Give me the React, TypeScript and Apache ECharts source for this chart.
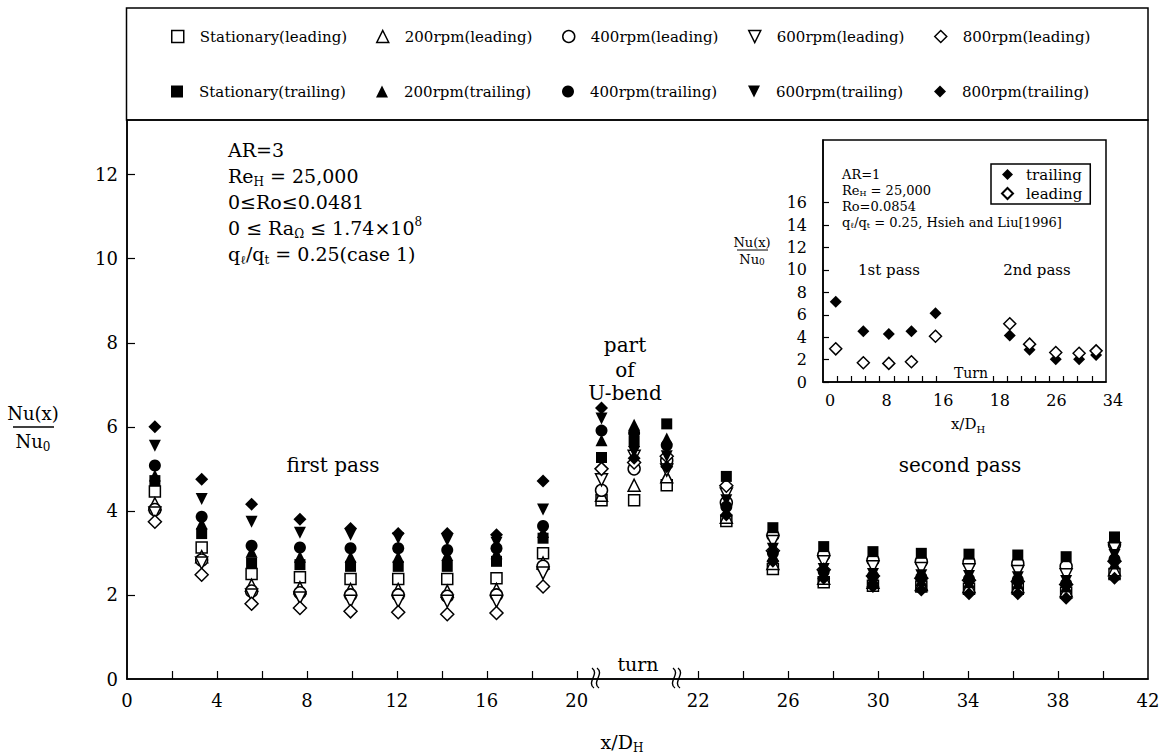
import React, { useEffect, useRef } from "react";
import * as echarts from "echarts";

const FONT = "DejaVu Serif";
const GAP = 3.4; // extra axis room reserved for the U-bend (turn) region

// measurement stations, x/D_H
const firstPassX = [1.24, 3.32, 5.54, 7.69, 9.94, 12.06, 14.24, 16.43, 18.5];
const secondPassX = [23.25, 25.32, 27.58, 29.77, 31.92, 34.04, 36.21, 38.36, 40.51];
// stations inside the U-bend (axis units inside the turn break)
const turnX = [21.1, 22.55, 24.0];

const xTickLabels = [0, 4, 8, 12, 16, 20, 22, 26, 30, 34, 38, 42];
const xTicks = [2, 4, 6, 8, 10, 12, 14, 16, 18, 20, 22, 24, 26, 28, 30, 32, 34, 36, 38, 40];
const yTickLabels = [0, 2, 4, 6, 8, 10, 12];
const yTicks = [2, 4, 6, 8, 10, 12];

// Nu(x)/Nu0 : 9 first-pass, 3 turn, 9 second-pass values
const stationaryLeading = [4.46, 3.13, 2.5, 2.42, 2.38, 2.38, 2.38, 2.4, 2.99, 4.25, 4.25, 4.61, 3.76, 2.62, 2.3, 2.22, 2.2, 2.15, 2.15, 2.05, 2.5];
const rpm200Leading = [4.17, 2.91, 2.23, 2.17, 2.13, 2.13, 2.09, 2.13, 2.76, 4.37, 4.61, 4.81, 3.85, 2.75, 2.4, 2.3, 2.25, 2.2, 2.2, 2.1, 2.6];
const rpm400Leading = [4.03, 2.83, 2.09, 2.05, 2.0, 2.0, 1.97, 2.0, 2.68, 4.49, 5.0, 5.2, 4.2, 3.42, 2.95, 2.83, 2.8, 2.78, 2.75, 2.68, 3.2];
const rpm600Leading = [3.95, 2.76, 2.0, 1.93, 1.85, 1.85, 1.85, 1.85, 2.52, 4.74, 5.3, 4.97, 4.4, 3.27, 2.79, 2.67, 2.63, 2.6, 2.56, 2.48, 3.1];
const rpm800Leading = [3.74, 2.48, 1.79, 1.69, 1.61, 1.59, 1.54, 1.57, 2.2, 5.0, 5.15, 5.3, 4.6, 3.05, 2.6, 2.45, 2.4, 2.35, 2.32, 2.25, 2.8];
const stationaryTrailing = [4.72, 3.46, 2.76, 2.72, 2.68, 2.68, 2.68, 2.8, 3.35, 5.27, 5.65, 6.07, 4.82, 3.6, 3.15, 3.03, 2.99, 2.97, 2.95, 2.91, 3.38];
const rpm200Trailing = [4.84, 3.7, 3.03, 2.91, 2.91, 2.91, 2.95, 2.99, 3.5, 5.68, 6.05, 5.72, 4.0, 2.95, 2.5, 2.4, 2.35, 2.3, 2.28, 2.2, 2.75];
const rpm400Trailing = [5.08, 3.86, 3.17, 3.13, 3.11, 3.11, 3.07, 3.11, 3.64, 5.91, 5.85, 5.56, 4.1, 3.0, 2.55, 2.45, 2.42, 2.38, 2.36, 2.27, 2.85];
const rpm600Trailing = [5.55, 4.28, 3.74, 3.48, 3.43, 3.35, 3.3, 3.24, 4.03, 6.2, 5.4, 5.3, 4.25, 3.1, 2.62, 2.5, 2.47, 2.45, 2.42, 2.33, 2.95];
const rpm800Trailing = [6.0, 4.75, 4.16, 3.8, 3.58, 3.46, 3.46, 3.43, 4.71, 6.45, 5.25, 5.05, 3.9, 2.8, 2.4, 2.2, 2.12, 2.03, 2.03, 1.92, 2.4];

// inset (AR=1, Hsieh and Liu 1996)
const INSET_GAP = 6;
const insetFirstX = [1.8, 5.7, 9.3, 12.5, 15.9];
const insetSecondX = [20.4, 23.2, 26.9, 30.2, 32.6];
const insetTrailing = [7.16, 4.53, 4.29, 4.53, 6.13, 4.14, 2.87, 2.02, 2.02, 2.42];
const insetLeading = [2.96, 1.72, 1.66, 1.81, 4.08, 5.2, 3.38, 2.63, 2.57, 2.78];
const insetXLabels = [0, 8, 16, 18, 26, 34];
const insetXTicks = [2, 4, 6, 8, 10, 12, 14, 16, 18, 20, 22, 24, 26, 28, 30, 32];
const insetYLabels = [0, 2, 4, 6, 8, 10, 12, 14, 16];

const toDisp = (x: number) => (x > 20 ? x + GAP : x);
const fromDisp = (v: number) => (v > 21 ? v - GAP : v);
const toInsetDisp = (x: number) => (x > 16 ? x + INSET_GAP : x);

function mainPoints(vals: number[]) {
  const pts: number[][] = [];
  firstPassX.forEach((x, i) => pts.push([x, vals[i]]));
  turnX.forEach((x, i) => pts.push([x, vals[9 + i]]));
  secondPassX.forEach((x, i) => pts.push([toDisp(x), vals[12 + i]]));
  return pts;
}
function insetPoints(vals: number[]) {
  return [...insetFirstX, ...insetSecondX].map((x, i) => [toInsetDisp(x), vals[i]]);
}

const hollow = { color: "#fff", borderColor: "#000", borderWidth: 1.5, opacity: 1 };
const solid = { color: "#000", borderColor: "#000", borderWidth: 0, opacity: 1 };
const DOWN_TRIANGLE = "path://M0,0L12,0L6,12Z";

const defs = [
  { name: "Stationary(leading)", symbol: "rect", size: 11, rot: 0, filled: false, vals: stationaryLeading, col: 0, row: 0 },
  { name: "200rpm(leading)", symbol: "triangle", size: 12, rot: 0, filled: false, vals: rpm200Leading, col: 1, row: 0 },
  { name: "400rpm(leading)", symbol: "circle", size: 12, rot: 0, filled: false, vals: rpm400Leading, col: 2, row: 0 },
  { name: "600rpm(leading)", symbol: "triangle", size: 12, rot: 180, filled: false, vals: rpm600Leading, col: 3, row: 0 },
  { name: "800rpm(leading)", symbol: "diamond", size: 13, rot: 0, filled: false, vals: rpm800Leading, col: 4, row: 0 },
  { name: "Stationary(trailing)", symbol: "rect", size: 11, rot: 0, filled: true, vals: stationaryTrailing, col: 0, row: 1 },
  { name: "200rpm(trailing)", symbol: "triangle", size: 12, rot: 0, filled: true, vals: rpm200Trailing, col: 1, row: 1 },
  { name: "400rpm(trailing)", symbol: "circle", size: 12, rot: 0, filled: true, vals: rpm400Trailing, col: 2, row: 1 },
  { name: "600rpm(trailing)", symbol: "triangle", size: 12, rot: 180, filled: true, vals: rpm600Trailing, col: 3, row: 1 },
  { name: "800rpm(trailing)", symbol: "diamond", size: 13, rot: 0, filled: true, vals: rpm800Trailing, col: 4, row: 1 },
];

const legendCols = [177, 382, 568, 754, 940];
const legendRows = [38, 93];

const richBase = (size: number, sub: number, lh: number) => ({
  m: { fontSize: size, fontFamily: FONT, fill: "#000", lineHeight: lh },
  s: { fontSize: sub, fontFamily: FONT, fill: "#000", lineHeight: sub, verticalAlign: "bottom" },
  p: { fontSize: sub, fontFamily: FONT, fill: "#000", lineHeight: sub, verticalAlign: "top" },
});

function txt(x: number, y: number, text: string, size: number, align = "left", sub = 12, lh = size + 5) {
  return {
    type: "text",
    x,
    y,
    style: {
      text,
      rich: richBase(size, sub, lh),
      font: `${size}px "${FONT}"`,
      fill: "#000",
      align,
      verticalAlign: "middle",
    },
  };
}

function breakMark(cx: number, cy: number) {
  return [0, 5].map((dx) => ({
    type: "bezierCurve",
    shape: { x1: cx + dx - 1, y1: cy - 11, x2: cx + dx + 1, y2: cy + 9, cpx1: cx + dx + 7, cpy1: cy - 5, cpx2: cx + dx - 7, cpy2: cy + 3 },
    style: { stroke: "#000", lineWidth: 1.4, fill: "none" },
  }));
}

const axisText = { fontFamily: FONT, color: "#000" };

export default function App() {
  const ref = useRef<HTMLDivElement>(null);
  useEffect(() => {
    const chart = echarts.init(ref.current!, null, { renderer: "svg" });
    const order = [...defs.filter((d) => !d.filled), ...defs.filter((d) => d.filled)];
    const option: any = {
      animation: false,
      backgroundColor: "#fff",
      grid: [
        { left: 127, top: 120, width: 1021, height: 559, show: true, borderColor: "#000", borderWidth: 1.5 },
        { left: 823, top: 140, width: 283, height: 242, show: true, borderColor: "#000", borderWidth: 1.5, backgroundColor: "#fff" },
      ],
      xAxis: [
        {
          type: "value", gridIndex: 0, min: 0, max: 42 + GAP,
          axisLine: { lineStyle: { color: "#000", width: 1.5 } },
          axisTick: { inside: true, length: 8, lineStyle: { color: "#000", width: 1.2 }, customValues: xTicks.map(toDisp) },
          axisLabel: { ...axisText, fontSize: 18, margin: 12, customValues: xTickLabels.map(toDisp), formatter: (v: number) => String(Math.round(fromDisp(v))) },
          splitLine: { show: false },
        },
        {
          type: "value", gridIndex: 1, min: 0, max: 34 + INSET_GAP,
          axisLine: { lineStyle: { color: "#000", width: 1.5 } },
          axisTick: { inside: true, length: 6, lineStyle: { color: "#000", width: 1.2 }, customValues: insetXTicks.map(toInsetDisp) },
          axisLabel: { ...axisText, fontSize: 16, margin: 10, padding: [0, 0, 0, 14], customValues: insetXLabels.map(toInsetDisp), formatter: (v: number) => String(Math.round(v > 17 ? v - INSET_GAP : v)) },
          splitLine: { show: false },
        },
      ],
      yAxis: [
        {
          type: "value", gridIndex: 0, min: 0, max: 13.3,
          axisLine: { lineStyle: { color: "#000", width: 1.5 } },
          axisTick: { inside: true, length: 8, lineStyle: { color: "#000", width: 1.2 }, customValues: yTicks },
          axisLabel: { ...axisText, fontSize: 18, margin: 9, customValues: yTickLabels },
          splitLine: { show: false },
        },
        {
          type: "value", gridIndex: 1, min: 0, max: 21.6,
          axisLine: { lineStyle: { color: "#000", width: 1.5 } },
          axisTick: { inside: true, length: 6, lineStyle: { color: "#000", width: 1.2 }, customValues: insetYLabels },
          axisLabel: { ...axisText, fontSize: 16, margin: 16, customValues: insetYLabels },
          splitLine: { show: false },
        },
      ],
      legend: [
        ...defs.map((d) => ({
          data: [d.rot ? { name: d.name, icon: DOWN_TRIANGLE } : { name: d.name }],
          left: legendCols[d.col] - 6,
          top: legendRows[d.row] - 9,
          itemWidth: 12,
          itemHeight: 12,
          padding: 0,
          selectedMode: false,
          itemStyle: d.filled ? solid : hollow,
          textStyle: { fontFamily: FONT, fontSize: 15, color: "#000", padding: [0, 0, 0, 11] },
        })),
        {
          data: ["trailing", "leading"],
          orient: "vertical",
          left: 991,
          top: 164,
          itemGap: 4,
          itemWidth: 11,
          itemHeight: 11,
          selectedMode: false,
          borderColor: "#000",
          borderWidth: 1.5,
          padding: [3, 8, 3, 10],
          textStyle: { fontFamily: FONT, fontSize: 15, color: "#000", padding: [0, 0, 0, 8] },
        },
      ],
      series: [
        ...order.map((d) => ({
          name: d.name,
          type: "scatter",
          xAxisIndex: 0,
          yAxisIndex: 0,
          symbol: d.symbol,
          symbolSize: d.size,
          symbolRotate: d.rot,
          itemStyle: d.filled ? solid : hollow,
          data: mainPoints(d.vals),
        })),
        { name: "trailing", type: "scatter", xAxisIndex: 1, yAxisIndex: 1, symbol: "diamond", symbolSize: 12, itemStyle: solid, data: insetPoints(insetTrailing) },
        { name: "leading", type: "scatter", xAxisIndex: 1, yAxisIndex: 1, symbol: "diamond", symbolSize: 12, itemStyle: hollow, data: insetPoints(insetLeading) },
      ],
      graphic: [
        { type: "rect", shape: { x: 126.5, y: 8, width: 1021.5, height: 112 }, style: { fill: "none", stroke: "#000", lineWidth: 1.5 } },
        // main annotations
        txt(228, 150, "{m|AR=3}", 19),
        txt(228, 176, "{m|Re}{s|H}{m| = 25,000}", 19),
        txt(228, 202, "{m|0≤Ro≤0.0481}", 19),
        txt(228, 228, "{m|0 ≤ Ra}{s|Ω}{m| ≤ 1.74×10}{p|8}", 19),
        txt(228, 254, "{m|q}{s|ℓ}{m|/q}{s|t}{m| = 0.25(case 1)}", 19),
        txt(333, 465, "{m|first pass}", 20, "center"),
        txt(625, 345, "{m|part}", 20, "center"),
        txt(625, 370, "{m|of}", 20, "center"),
        txt(625, 393, "{m|U-bend}", 20, "center"),
        txt(960, 465, "{m|second pass}", 20, "center"),
        txt(638, 664, "{m|turn}", 19, "center"),
        ...breakMark(593, 679),
        ...breakMark(674, 679),
        txt(622, 742, "{m|x/D}{s|H}", 19, "center"),
        // y-axis title
        txt(33, 413, "{m|Nu(x)}", 18, "center"),
        { type: "line", shape: { x1: 13, y1: 427, x2: 54, y2: 427 }, style: { stroke: "#000", lineWidth: 1.3 } },
        txt(33, 441, "{m|Nu}{s|0}", 18, "center"),
        // inset annotations
        txt(842, 174, "{m|AR=1}", 13, "left", 9, 14),
        txt(842, 190, "{m|Re}{s|H}{m| = 25,000}", 13, "left", 8, 14),
        txt(842, 206, "{m|Ro=0.0854}", 13, "left", 9, 14),
        txt(842, 222, "{m|q}{s|ℓ}{m|/q}{s|t}{m| = 0.25, Hsieh and Liu[1996]}", 13, "left", 8, 14),
        txt(889, 270, "{m|1st pass}", 15, "center"),
        txt(1037, 270, "{m|2nd pass}", 15, "center"),
        txt(971, 373, "{m|Turn}", 14, "center"),
        txt(752, 242, "{m|Nu(x)}", 13, "center", 9, 14),
        { type: "line", shape: { x1: 737, y1: 250, x2: 768, y2: 250 }, style: { stroke: "#000", lineWidth: 1 } },
        txt(752, 259, "{m|Nu}{s|0}", 13, "center", 9, 14),
        txt(968, 424, "{m|x/D}{s|H}", 15, "center", 10),
      ],
    };
    chart.setOption(option);
    return () => chart.dispose();
  }, []);
  return <div ref={ref} style={{ position: "absolute", left: 0, top: 0, width: 1166, height: 756 }} />;
}
